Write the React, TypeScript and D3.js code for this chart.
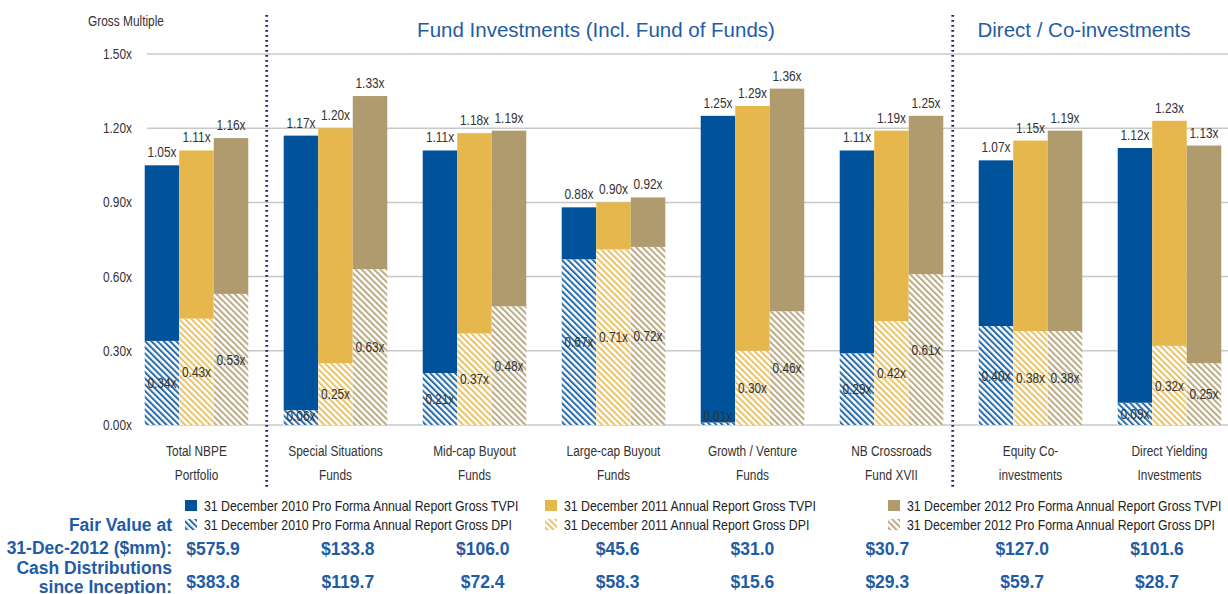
import React from 'react';
import * as d3 from 'd3';

// categories (two label lines each)
const categories = [
  ['Total NBPE', 'Portfolio'],
  ['Special Situations', 'Funds'],
  ['Mid-cap Buyout', 'Funds'],
  ['Large-cap Buyout', 'Funds'],
  ['Growth / Venture', 'Funds'],
  ['NB Crossroads', 'Fund XVII'],
  ['Equity Co-', 'investments'],
  ['Direct Yielding', 'Investments'],
];

const seriesNames = ['2010', '2011', '2012'];

// gross TVPI per series
const tvpi2010 = [1.05, 1.17, 1.11, 0.88, 1.25, 1.11, 1.07, 1.12];
const tvpi2011 = [1.11, 1.2, 1.18, 0.9, 1.29, 1.19, 1.15, 1.23];
const tvpi2012 = [1.16, 1.33, 1.19, 0.92, 1.36, 1.25, 1.19, 1.13];

// gross DPI per series
const dpi2010 = [0.34, 0.06, 0.21, 0.67, 0.01, 0.29, 0.4, 0.09];
const dpi2011 = [0.43, 0.25, 0.37, 0.71, 0.3, 0.42, 0.38, 0.32];
const dpi2012 = [0.53, 0.63, 0.48, 0.72, 0.46, 0.61, 0.38, 0.25];

const fairValue = ['$575.9', '$133.8', '$106.0', '$45.6', '$31.0', '$30.7', '$127.0', '$101.6'];
const cashDist = ['$383.8', '$119.7', '$72.4', '$58.3', '$15.6', '$29.3', '$59.7', '$28.7'];

const yTicks = [0, 0.3, 0.6, 0.9, 1.2, 1.5];

const legendTvpi = [
  '31 December 2010 Pro Forma Annual Report Gross TVPI',
  '31 December 2011 Annual Report Gross TVPI',
  '31 December 2012 Pro Forma Annual Report Gross TVPI',
];
const legendDpi = [
  '31 December 2010 Pro Forma Annual Report Gross DPI',
  '31 December 2011 Annual Report Gross DPI',
  '31 December 2012 Pro Forma Annual Report Gross DPI',
];

const colors = ['#00529b', '#e6b74c', '#af9b6e'];
const navy = '#1f5ca6';
const font = "'Liberation Sans', Arial, sans-serif";

// condensed text: no narrow face installed, so squeeze a regular one
const NText = ({ x, y, size = 14, k = 0.82, anchor = 'middle', dy = '0', fill = '#333', children }) => (
  <text transform={`translate(${x},${y}) scale(${k},1)`} dy={dy} textAnchor={anchor}
    fontSize={size} fontFamily={font} fill={fill}>{children}</text>
);

const App = () => {
  const width = 1228;
  const height = 594;
  const keys = categories.map(c => c.join(' '));
  const tvpi = [tvpi2010, tvpi2011, tvpi2012];
  const dpi = [dpi2010, dpi2011, dpi2012];

  const x0 = d3.scaleBand().domain(keys).range([127, 1239]).paddingInner(0.255).paddingOuter(0.1275);
  const x1 = d3.scaleBand().domain(seriesNames).range([0, x0.bandwidth()]);
  const y = d3.scaleLinear().domain([0, 1.5]).range([425, 54]);
  const valX = d3.scalePoint().domain(keys).range([213, 1157]);
  const fmt = d3.format('.2f');

  // dividers sit in the gaps between sections
  const div1 = x0(keys[1]) - 17;
  const div2 = x0(keys[6]) - 26;

  return (
    <svg width={width} height={height} style={{ position: 'absolute', left: 0, top: 0, background: '#fff' }}>
      <defs>
        {colors.map((c, i) => (
          <pattern key={i} id={'hatch' + i} patternUnits='userSpaceOnUse' width={4.4} height={4.4}
            patternTransform='rotate(-45)'>
            <rect width={2} height={4.4} fill={c} opacity={0.85} />
          </pattern>
        ))}
      </defs>

      {/* gridlines */}
      {yTicks.map(t => (
        <line key={t} x1={147} x2={1228} y1={y(t)} y2={y(t)} stroke='#c8c8c8' strokeWidth={1.5} />
      ))}
      {yTicks.map(t => (
        <NText key={'t' + t} x={132} y={y(t)} dy='0.35em' anchor='end' size={14.5}>{fmt(t)}x</NText>
      ))}
      <NText x={126} y={26} size={14.5}>Gross Multiple</NText>

      {/* section titles */}
      <text x={596} y={37} textAnchor='middle' fontSize={20.5} fontFamily={font} fill={navy}>
        Fund Investments (Incl. Fund of Funds)
      </text>
      <text x={1084} y={37} textAnchor='middle' fontSize={20.5} fontFamily={font} fill={navy}>
        Direct / Co-investments
      </text>

      {/* bars */}
      {keys.map((k, gi) => (
        <g key={k} transform={`translate(${x0(k)},0)`}>
          {seriesNames.map((s, si) => {
            const bx = x1(s);
            const bw = x1.bandwidth();
            const t = tvpi[si][gi];
            const d = dpi[si][gi];
            const mid = Math.min((y(d) + y(0)) / 2, y(0) - 9);
            return (
              <g key={s}>
                <rect x={bx} y={y(d)} width={bw} height={y(0) - y(d)} fill='#fff' />
                <rect x={bx} y={y(d)} width={bw} height={y(0) - y(d)} fill={`url(#hatch${si})`} />
                <rect x={bx} y={y(t)} width={bw} height={y(d) - y(t)} fill={colors[si]} />
                <NText x={bx + bw / 2} y={y(t) - 8} size={14.5}>{fmt(t)}x</NText>
                <NText x={bx + bw / 2} y={mid} dy='0.35em' size={14.5}>{fmt(d)}x</NText>
              </g>
            );
          })}
          {categories[gi].map((line, li) => (
            <NText key={li} x={x0.bandwidth() / 2} y={456 + li * 24} size={14.5}>{line}</NText>
          ))}
        </g>
      ))}

      {/* dotted dividers */}
      {[div1, div2].map((dx, i) => (
        <line key={i} x1={dx} x2={dx} y1={15} y2={490} stroke='#1c2d6b' strokeWidth={2.8}
          strokeDasharray='1.8,3.2' />
      ))}

      {/* legend */}
      {[185, 545, 888].map((lx, i) => (
        <g key={i} transform={`translate(${lx},0)`}>
          <rect x={0} y={500} width={12} height={11} fill={colors[i]} />
          <NText x={19} y={506} dy='0.35em' anchor='start' size={14} k={0.88} fill='#222'>{legendTvpi[i]}</NText>
          <rect x={0} y={519} width={12} height={11} fill={`url(#hatch${i})`} />
          <NText x={19} y={525} dy='0.35em' anchor='start' size={14} k={0.88} fill='#222'>{legendDpi[i]}</NText>
        </g>
      ))}

      {/* bottom table */}
      {['Fair Value at', '31-Dec-2012 ($mm):', 'Cash Distributions', 'since Inception:'].map((l, i) => (
        <text key={l} x={172} y={[531, 554, 574, 593][i]} textAnchor='end' fontSize={17.5}
          fontWeight='bold' fontFamily={font} fill={navy}>{l}</text>
      ))}
      {keys.map((k, i) => (
        <g key={k}>
          <text x={valX(k)} y={555} textAnchor='middle' fontSize={17.5} fontWeight='bold'
            fontFamily={font} fill={navy}>{fairValue[i]}</text>
          <text x={valX(k)} y={588} textAnchor='middle' fontSize={17.5} fontWeight='bold'
            fontFamily={font} fill={navy}>{cashDist[i]}</text>
        </g>
      ))}
    </svg>
  );
};

export default App;
